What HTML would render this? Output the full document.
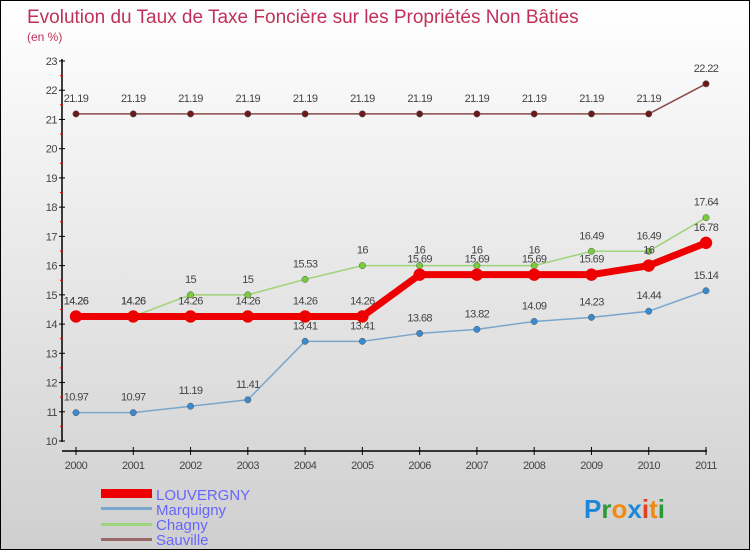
<!DOCTYPE html>
<html><head><meta charset="utf-8"><style>
body{margin:0}
#c{width:750px;height:550px;position:relative;overflow:hidden;box-sizing:border-box;border:1px solid #000;background:linear-gradient(#fff,#cfcfcf);font-family:"Liberation Sans",sans-serif}
</style></head><body>
<div id="c">
<svg id="s" width="750" height="550" style="position:absolute;left:0;top:0">
<text x="26" y="22" font-size="19" fill="#c0305a">Evolution du Taux de Taxe Foncière sur les Propriétés Non Bâties</text>
<text x="26" y="40" font-size="12" fill="#c0305a">(en %)</text>
<g id="plot"></g>
<g>
<rect x="100" y="488" width="51" height="9" fill="#e00"/>
<text x="155" y="499" font-size="15" fill="#66f">LOUVERGNY</text>
<rect x="100" y="506" width="51" height="3" fill="#7aa6cc"/>
<text x="155" y="514" font-size="15" fill="#66f">Marquigny</text>
<rect x="100" y="522" width="51" height="3" fill="#9ed47a"/>
<text x="155" y="529" font-size="15" fill="#66f">Chagny</text>
<rect x="100" y="537" width="51" height="3" fill="#9a6a6a"/>
<text x="155" y="544" font-size="15" fill="#66f">Sauville</text>
</g>
<text x="583" y="517" font-size="26" font-weight="bold"><tspan fill="#1e88d8">P</tspan><tspan fill="#2a9a3a">r</tspan><tspan fill="#f08a10">o</tspan><tspan fill="#1e88d8">x</tspan><tspan fill="#e04020">i</tspan><tspan fill="#f08a10">t</tspan><tspan fill="#2a9a3a">i</tspan></text>
</svg>
</div>
<script>
const years=["2000","2001","2002","2003","2004","2005","2006","2007","2008","2009","2010","2011"];
const yTicks=[10,11,12,13,14,15,16,17,18,19,20,21,22,23];
const louvergny=[14.26,14.26,14.26,14.26,14.26,14.26,15.69,15.69,15.69,15.69,16,16.78];
const marquigny=[10.97,10.97,11.19,11.41,13.41,13.41,13.68,13.82,14.09,14.23,14.44,15.14];
const chagny=[14.26,14.26,15,15,15.53,16,16,16,16,16.49,16.49,17.64];
const sauville=[21.19,21.19,21.19,21.19,21.19,21.19,21.19,21.19,21.19,21.19,21.19,22.22];
const NS="http://www.w3.org/2000/svg";
const g=document.getElementById('plot');
const X=i=>75+i*(705-75)/11;
const Y=v=>440-(v-10)*(380/13);
function mk(t,a,p){const e=document.createElementNS(NS,t);for(const k in a)e.setAttribute(k,a[k]);(p||g).appendChild(e);return e;}
let e;
e=mk('line',{x1:61,y1:58,x2:61,y2:441,stroke:'#000','stroke-width':1.5});


e=mk('line',{x1:61,y1:450,x2:706,y2:450,stroke:'#000','stroke-width':1.5});


yTicks.forEach((v,i)=>{
 mk('line',{x1:58,x2:64,y1:Y(v),y2:Y(v),stroke:'#000'});
 if(i<yTicks.length-1)mk('line',{x1:59,x2:62,y1:Y(v+.5),y2:Y(v+.5),stroke:'#e00'});
 e=mk('text',{x:56,y:Y(v)+4,'font-size':11,fill:'#444','text-anchor':'end','letter-spacing':'-0.5'});e.textContent=v;
 
 
});
years.forEach((y,i)=>{
 mk('line',{x1:X(i),x2:X(i),y1:446,y2:454,stroke:'#000'});
 e=mk('text',{x:X(i),y:468,'font-size':11,fill:'#444','text-anchor':'middle','letter-spacing':'-0.5'});e.textContent=y;
 
 
});
function series(name,d,col,w,r,fill,lab){
 const pts=d.map((v,i)=>X(i)+','+Y(v)).join(' ');
 e=mk('polyline',{points:pts,fill:'none',stroke:col,'stroke-width':w,'stroke-linejoin':'round'});
 
 
 d.forEach((v,i)=>{
  e=mk('circle',{cx:X(i),cy:Y(v),r:r,fill:fill,stroke:col==='#e00'?'#e00':'#555','stroke-width':0.5});
  
  
  e=mk('text',{x:X(i),y:Y(v)-lab,'font-size':11,fill:'#444','text-anchor':'middle','letter-spacing':'-0.6'});e.textContent=v;
  
  
 });
}
series('sauville',sauville,'#8a4a4a',1.5,3.2,'#6a1a1a',12);
series('marquigny',marquigny,'#7aa6cc',1.5,3.2,'#3a8ad0',12);
series('chagny',chagny,'#9ed47a',1.5,3.2,'#7acc3a',12);
series('louvergny',louvergny,'#e00',7,6,'#e00',12);
</script>
</body></html>
